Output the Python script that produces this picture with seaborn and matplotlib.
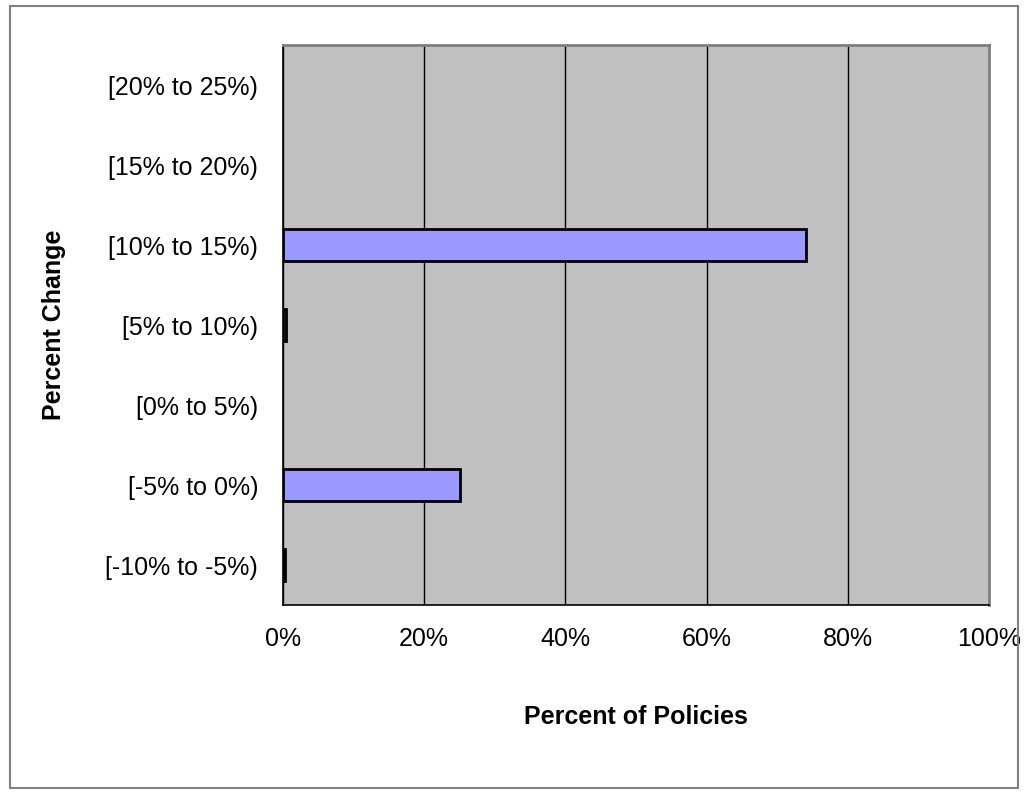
import matplotlib
matplotlib.use("Agg")
import matplotlib.pyplot as plt
import seaborn as sns
import pandas as pd
from matplotlib.ticker import PercentFormatter, FixedLocator
from matplotlib.patches import Rectangle

categories = ["[20% to 25%)", "[15% to 20%)", "[10% to 15%)", "[5% to 10%)",
              "[0% to 5%)", "[-5% to 0%)", "[-10% to -5%)"]
values = [0.0, 0.0, 74.1, 0.4, 0.0, 25.1, 0.3]
x_ticks = [0, 20, 40, 60, 80, 100]

df = pd.DataFrame({"Percent Change": categories, "Percent of Policies": values})

sns.set_style("white")
plt.rcParams["font.family"] = ["Liberation Sans", "DejaVu Sans"]

FS = 18

fig = plt.figure(figsize=(10.28, 7.92), dpi=100)
ax = fig.add_axes([283/1028, 1 - 605/792, 706/1028, 560/792])

# outer chart border
fig.patches.append(Rectangle((10/1028, 4/792), 1008/1028, 782/792, transform=fig.transFigure,
                             fill=False, edgecolor="#808080", linewidth=1.5))

ax.set_facecolor("#C0C0C0")
sns.barplot(data=df, y="Percent Change", x="Percent of Policies", orient="h",
            color="#9999FF", edgecolor="black", linewidth=2, width=0.39, saturation=1,
            ax=ax, zorder=3)
for p in ax.patches:
    if p.get_width() == 0:
        p.set_visible(False)

ax.set_xlim(0, 100)
ax.set_ylim(len(categories) - 0.5, -0.5)
ax.xaxis.set_major_locator(FixedLocator(x_ticks))
ax.xaxis.set_major_formatter(PercentFormatter(100, decimals=0))
ax.grid(axis="x", color="black", linewidth=1, zorder=1)
ax.set_axisbelow(True)

# y ticks at category boundaries, labels centered
ax.set_yticks([i for i in range(len(categories))])
ax.set_yticklabels(categories)
ax.set_yticks([i - 0.5 for i in range(len(categories) + 1)], minor=True)
ax.tick_params(axis="y", which="major", length=0, pad=18, labelsize=FS, labelcolor="black")
ax.tick_params(axis="y", which="minor", length=6, width=1, color="black", direction="out")
ax.tick_params(axis="x", which="major", length=6, width=1, color="black", direction="out",
               pad=10, labelsize=FS, labelcolor="black")

for s in ["left", "bottom"]:
    ax.spines[s].set_color("black")
    ax.spines[s].set_linewidth(1.2)
for s in ["top", "right"]:
    ax.spines[s].set_color("#808080")
    ax.spines[s].set_linewidth(2)

ax.set_xlabel("Percent of Policies", fontsize=FS, fontweight="bold", color="black", va="center")
ax.set_ylabel("Percent Change", fontsize=FS, fontweight="bold", color="black", va="center")
ax.xaxis.set_label_coords(0.5, (605 - 717) / 560)
ax.yaxis.set_label_coords((54 - 283) / 706, 0.5)

fig.savefig("out.png", dpi=100)
